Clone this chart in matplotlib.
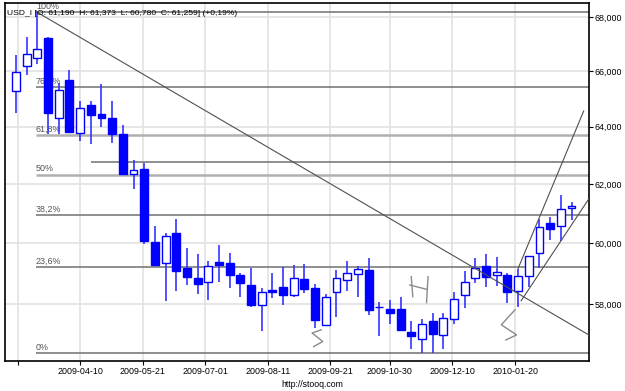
import matplotlib
matplotlib.use('Agg')
import matplotlib.pyplot as plt
import numpy as np
import pandas as pd
from matplotlib.ticker import NullLocator, FuncFormatter

plt.rcParams['font.family'] = ['Liberation Sans', 'DejaVu Sans']

# weekly candles, USD_I
weeks = pd.date_range('2009-02-27', periods=53, freq='7D')
opens = np.array([65.28, 66.18, 66.49, 67.23, 64.30, 65.66, 63.79, 64.76, 64.45, 64.30,
                  63.73, 62.35, 62.51, 60.03, 59.33, 60.32, 59.16, 58.85, 58.71, 59.37,
                  59.35, 58.96, 58.63, 57.97, 58.46, 58.54, 58.28, 58.83, 58.52, 57.34,
                  58.38, 58.77, 58.99, 59.10, 57.92, 57.85, 57.84, 57.11, 56.90, 57.45,
                  57.01, 57.52, 58.30, 58.85, 59.24, 58.94, 58.96, 58.42, 58.90, 59.67,
                  60.66, 60.58, 61.190])
highs = np.array([66.61, 67.26, 68.20, 67.28, 65.57, 66.06, 64.91, 64.91, 65.54, 64.93,
                  64.05, 62.81, 62.71, 60.58, 60.35, 60.79, 59.85, 59.63, 59.41, 59.93,
                  59.66, 59.02, 59.17, 58.52, 59.02, 59.21, 59.27, 59.30, 58.65, 58.33,
                  59.10, 59.39, 59.24, 59.49, 58.08, 58.14, 58.24, 57.47, 57.52, 57.71,
                  57.71, 58.39, 59.07, 59.52, 59.63, 59.55, 59.00, 59.15, 59.58, 60.80,
                  60.88, 61.62, 61.373])
lows = np.array([64.47, 65.85, 66.25, 63.75, 63.73, 63.78, 63.49, 63.37, 63.99, 63.43,
                 62.33, 61.83, 59.97, 59.27, 58.11, 58.41, 58.62, 58.33, 58.12, 58.73,
                 58.52, 58.24, 57.92, 57.15, 58.19, 57.98, 58.23, 58.35, 57.24, 57.29,
                 57.60, 58.44, 58.24, 57.66, 56.97, 57.36, 57.13, 56.59, 56.44, 56.44,
                 56.57, 57.36, 57.87, 58.68, 58.55, 58.59, 58.05, 57.90, 58.55, 59.19,
                 60.10, 60.08, 60.780])
closes = np.array([65.96, 66.64, 66.80, 64.47, 65.30, 63.81, 64.65, 64.41, 64.29, 63.73,
                   62.35, 62.48, 60.06, 59.28, 60.22, 59.08, 58.89, 58.65, 59.24, 59.27,
                   58.94, 58.68, 57.98, 58.39, 58.40, 58.30, 58.85, 58.49, 57.48, 58.22,
                   58.85, 59.02, 59.13, 57.82, 57.90, 57.73, 57.18, 57.00, 57.37, 57.05,
                   57.55, 58.17, 58.73, 59.19, 58.89, 59.05, 58.38, 58.90, 59.57, 60.53,
                   60.47, 61.15, 61.259])

title = 'USD_I [O: 61,190  H: 61,373  L: 60,780  C: 61,259] (+0,19%)'

y_ticks = [58, 60, 62, 64, 66, 68]
x_ticks = ['2009-02-28', '2009-04-10', '2009-05-21', '2009-07-01', '2009-08-11',
           '2009-09-21', '2009-10-30', '2009-12-10', '2010-01-20']
x_labels = ['', '2009-04-10', '2009-05-21', '2009-07-01', '2009-08-11',
            '2009-09-21', '2009-10-30', '2009-12-10', '2010-01-20']

# fibonacci retracement
fib_pct = [0.0, 0.236, 0.382, 0.5, 0.618, 0.764, 1.0]
fib_names = ['0%', '23,6%', '38,2%', '50%', '61,8%', '76,4%', '100%']
fib_start = pd.Timestamp('2009-03-12')

# user drawings
hline_val = 62.75
hline_start = pd.Timestamp('2009-04-17')
trend_down = (['2009-03-12', '2010-03-10'], [68.22, 57.0])
trend_steep = (['2010-01-22', '2010-03-06'], [59.16, 64.56])
trend_flat = (['2010-01-24', '2010-03-10'], [58.11, 61.54])
scribble_1 = (['2009-09-15', '2009-09-09', '2009-09-16', '2009-09-10'], [57.18, 57.08, 56.81, 56.65])
h_left = (['2009-11-13', '2009-11-14'], [58.89, 58.24])
h_mid = (['2009-11-12', '2009-11-23'], [58.62, 58.48])
h_right = (['2009-11-24', '2009-11-23'], [58.89, 58.05])
scribble_2 = (['2010-01-20', '2010-01-11', '2010-01-21', '2010-01-14'], [57.82, 57.34, 57.02, 56.86])

fig = plt.figure(figsize=(6.25, 3.91), dpi=100)
ax = fig.add_axes([0.0075, 0.0767, 0.9344, 0.9148])
ax.set_yscale('log')

up = closes >= opens
ax.vlines(weeks, lows, highs, color='#3535ff', lw=1.2, zorder=2)
ax.bar(weeks[up], (closes - opens)[up], bottom=opens[up], width=5.2,
       facecolor='white', edgecolor='#0000ff', lw=1.0, zorder=3)
ax.bar(weeks[~up], (opens - closes)[~up], bottom=closes[~up], width=5.2,
       facecolor='#0000ff', edgecolor='#0000ff', lw=1.0, zorder=3)

x_end = pd.Timestamp('2010-03-20')
lo, hi = lows.min(), highs.max()
for p, name in zip(fib_pct, fib_names):
    lvl = lo + p * (hi - lo)
    light = name in ('61,8%', '50%')
    ax.hlines(lvl, fib_start, x_end, color='#b0b0b0' if light else '#707070',
              lw=1.8 if light else 1.1, zorder=1.5)
    ax.text(fib_start, lvl * 1.0008, name, fontsize=6.4, color='#555555',
            va='bottom', ha='left', zorder=1.6)
ax.hlines(hline_val, hline_start, x_end, color='#707070', lw=1.1, zorder=1.5)

for seg in [trend_down, trend_steep, trend_flat]:
    ax.plot(pd.to_datetime(seg[0]), seg[1], color='#505050', lw=0.8, zorder=4)
for seg in [scribble_1, h_left, h_mid, h_right, scribble_2]:
    ax.plot(pd.to_datetime(seg[0]), seg[1], color='#8a8a8a', lw=1.0, zorder=4)

ax.set_xlim(pd.Timestamp('2009-02-19 14:00'), pd.Timestamp('2010-03-09 06:00'))
ax.set_ylim(56.2, 68.53)

ax.yaxis.tick_right()
ax.set_yticks(y_ticks)
ax.yaxis.set_minor_locator(NullLocator())
ax.yaxis.set_major_formatter(FuncFormatter(lambda v, pos: f'{v:.3f}'.replace('.', ',')))
ax.set_xticks(pd.to_datetime(x_ticks))
ax.set_xticklabels(x_labels)
ax.tick_params(labelsize=6.4, length=3, width=0.8, pad=1.5, colors='black')

ax.grid(color='#e2e2e2', lw=1.2)
ax.set_axisbelow(True)
for s in ax.spines.values():
    s.set_linewidth(1.2)

ax.text(0.004, 0.967, title, transform=ax.transAxes, fontsize=6.1, va='baseline', ha='left', zorder=5)
fig.text(0.5, 0.017, 'http://stooq.com', ha='center', va='center', fontsize=6.3)

fig.savefig('out.png', dpi=100)
